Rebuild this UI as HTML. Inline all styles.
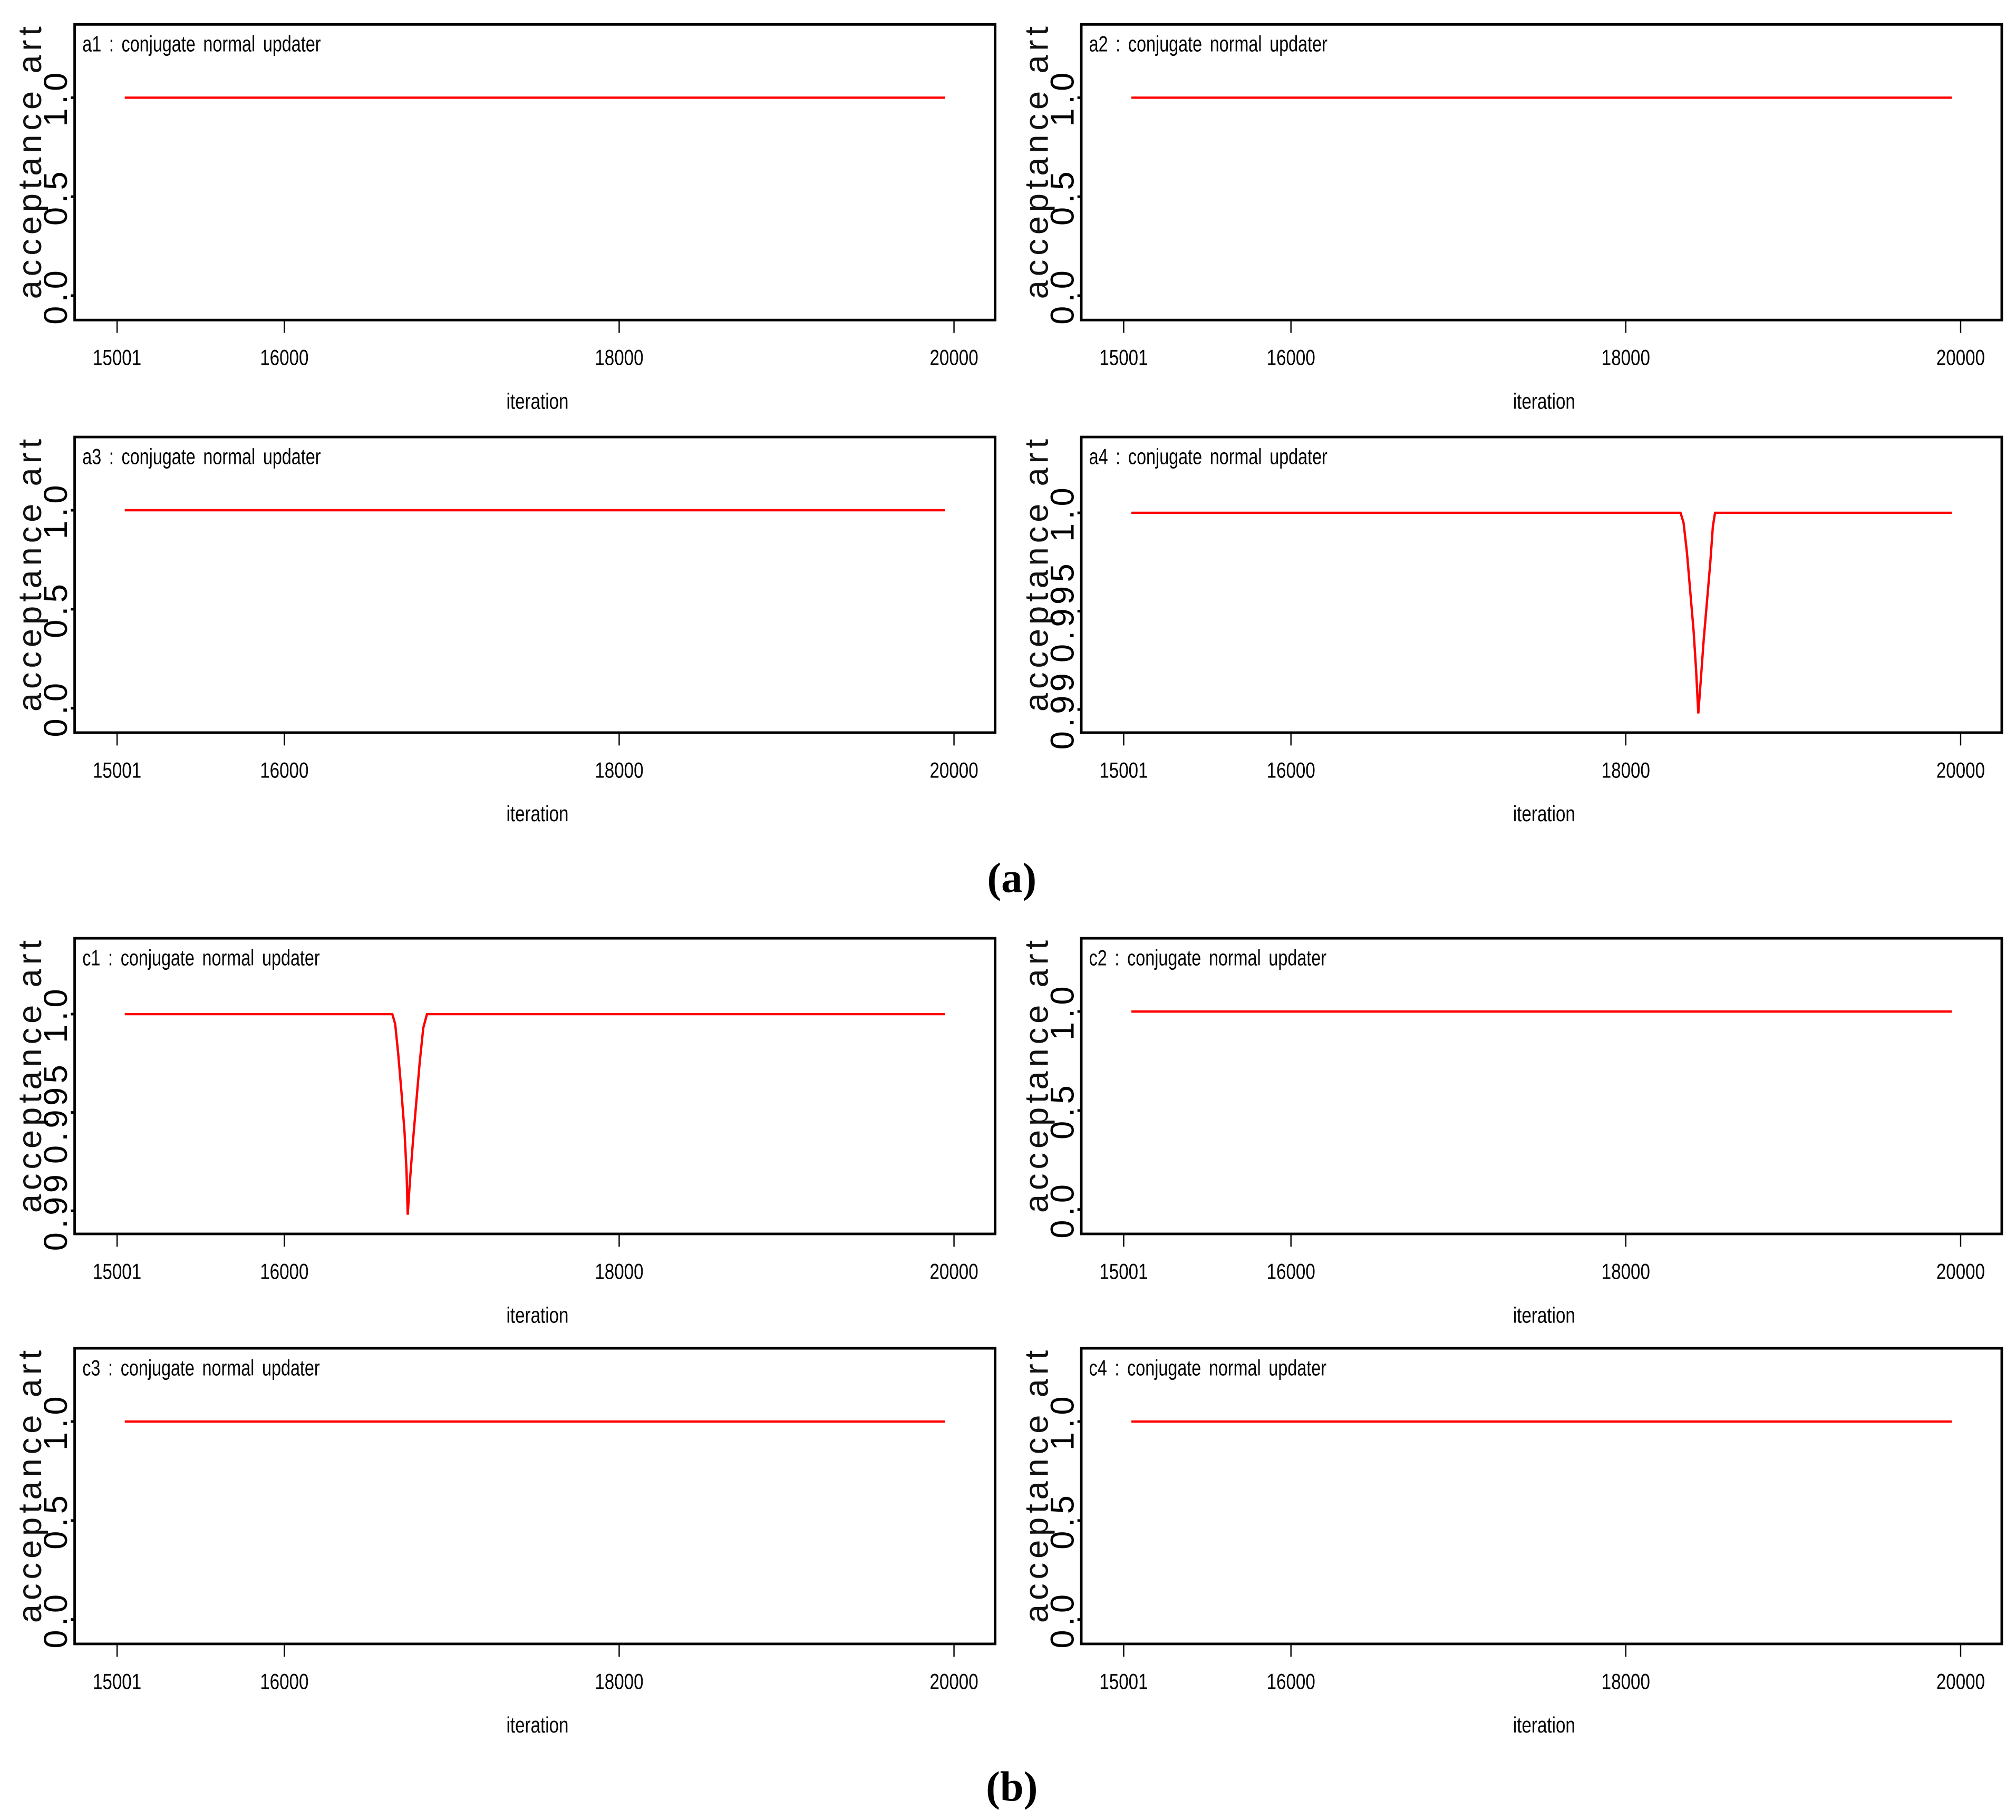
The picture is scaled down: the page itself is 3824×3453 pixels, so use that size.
<!DOCTYPE html>
<html><head><meta charset="utf-8"><style>
html,body{margin:0;padding:0;background:#fff;}
svg{display:block;}
</style></head><body>
<svg id="chart" width="3824" height="3453" viewBox="0 0 1568 1416" xmlns="http://www.w3.org/2000/svg">
<rect x="0" y="0" width="1568" height="1416" fill="#fff"/>
<text x="787" y="694" text-anchor="middle" font-family="Liberation Serif, serif" font-weight="bold" font-size="33">(a)</text>
<text x="787" y="1401" text-anchor="middle" font-family="Liberation Serif, serif" font-weight="bold" font-size="33">(b)</text>
</svg>
<script>
// Data arrays
const panelNames = ["a1","a2","a3","a4","c1","c2","c3","c4"];
const xTickValues = [15001, 16000, 18000, 20000];
const xTickLabels = ["15001","16000","18000","20000"];
const flatYTicks = [0.0, 0.5, 1.0];
const flatYLabels = ["0.0","0.5","1.0"];
const dipYTicks = [0.99, 0.995, 1.0];
const dipYLabels = ["0.99","0.995","1.0"];
const flatIters = [15047, 19947];
const flatVals = [1, 1];
const a4Iters = [15047, 18327, 18345, 18365, 18385, 18405, 18420, 18433, 18448, 18465, 18485, 18505, 18520, 18533, 19947];
const a4Vals  = [1, 1, 0.9995, 0.998, 0.996, 0.994, 0.992, 0.9898, 0.9915, 0.9935, 0.9955, 0.9975, 0.9993, 1, 1];
const c1Iters = [15047, 16645, 16662, 16680, 16700, 16718, 16730, 16737, 16750, 16768, 16788, 16808, 16830, 16852, 19947];
const c1Vals  = [1, 1, 0.9995, 0.998, 0.996, 0.994, 0.992, 0.9898, 0.9915, 0.9935, 0.9955, 0.9975, 0.9993, 1, 1];

const svg = document.getElementById('chart');
const NS = 'http://www.w3.org/2000/svg';
const origins = [[58,19],[841,19],[58,340],[841,340],[58,730],[841,730],[58,1049],[841,1049]];
function mk(tag, attrs){const e=document.createElementNS(NS,tag);for(const k in attrs)e.setAttribute(k,attrs[k]);return e;}

panelNames.forEach((name,i)=>{
  const [x0,y0]=origins[i];
  const isDip = (name==='a4'||name==='c1');
  const yT = isDip?dipYTicks:flatYTicks;
  const yL = isDip?dipYLabels:flatYLabels;
  const iters = name==='a4'?a4Iters:(name==='c1'?c1Iters:flatIters);
  const vals = name==='a4'?a4Vals:(name==='c1'?c1Vals:flatVals);
  const xs = v => x0+33+(v-15001)/(20000-15001)*651;
  const ys = isDip ? (v => y0+59+(1.0-v)/0.01*153) : (v => y0+211-(v/1.0)*154);
  const g = mk('g',{});
  
  
  svg.appendChild(g);
  const box = mk('rect',{x:x0,y:y0,width:716,height:230,fill:'none',stroke:'#000','stroke-width':2});
  
  
  g.appendChild(box);
  const title = mk('text',{x:x0+6,y:y0+21,'font-family':'Liberation Sans Narrow, Liberation Sans, sans-serif','font-size':17,'word-spacing':3,transform:`translate(${x0+6},0) scale(0.78,1) translate(${-(x0+6)},0)`});
  title.textContent = name+' :  conjugate normal updater';
  
  
  g.appendChild(title);
  // y axis label
  const yl = mk('text',{x:0,y:0,'font-family':'Liberation Sans, sans-serif','font-size':26,'letter-spacing':3.2,'text-anchor':'middle',transform:`translate(${x0-26},${y0+106}) rotate(-90)`,fill:'#111'});
  yl.textContent='acceptance art';
  
  
  g.appendChild(yl);
  yT.forEach((v,k)=>{
    const y=ys(v);
    const t=mk('line',{x1:x0-3,x2:x0,y1:y,y2:y,stroke:'#000','stroke-width':2});
    
    
    g.appendChild(t);
    const l=mk('text',{x:0,y:0,'font-family':'Liberation Sans, sans-serif','font-size':26,'letter-spacing':3,'text-anchor':'middle',transform:`translate(${x0-6},${y}) rotate(-90)`});
    l.textContent=yL[k];
    
    
    g.appendChild(l);
  });
  xTickValues.forEach((v,k)=>{
    const x=xs(v);
    const t=mk('line',{x1:x,x2:x,y1:y0+230,y2:y0+240,stroke:'#000','stroke-width':1});
    
    
    g.appendChild(t);
    const l=mk('text',{x:x,y:y0+265,'font-family':'Liberation Sans Narrow, Liberation Sans, sans-serif','font-size':17,'text-anchor':'middle',transform:`translate(${x},0) scale(0.8,1) translate(${-x},0)`});
    l.textContent=xTickLabels[k];
    
    
    g.appendChild(l);
  });
  const xl=mk('text',{x:x0+360,y:y0+299,'font-family':'Liberation Sans Narrow, Liberation Sans, sans-serif','font-size':17,'text-anchor':'middle',transform:`translate(${x0+360},0) scale(0.8,1) translate(${-(x0+360)},0)`});
  xl.textContent='iteration';
  
  
  g.appendChild(xl);
  const pts = iters.map((it,k)=>xs(it).toFixed(2)+','+ys(vals[k]).toFixed(2)).join(' ');
  const pl = mk('polyline',{points:pts,fill:'none',stroke:'#ff0000','stroke-width':1.8});
  
  
  g.appendChild(pl);
});
</script>
</body></html>
